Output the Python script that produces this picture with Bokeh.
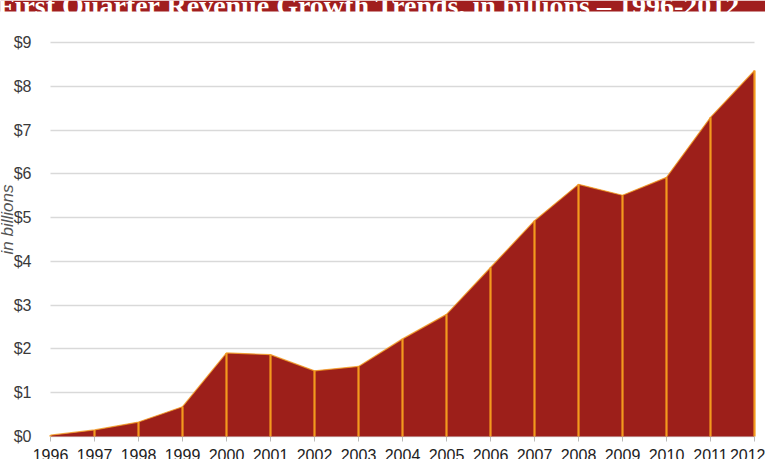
import math
from bokeh.plotting import figure
from bokeh.models import FixedTicker, NumeralTickFormatter, Label, BoxAnnotation
from bokeh.embed import file_html
from bokeh.resources import INLINE

# ---- data ----
years = [1996, 1997, 1998, 1999, 2000, 2001, 2002, 2003, 2004,
         2005, 2006, 2007, 2008, 2009, 2010, 2011, 2012]
revenue = [0.03, 0.15, 0.33, 0.68, 1.91, 1.87, 1.50, 1.60, 2.23,
           2.79, 3.86, 4.93, 5.76, 5.51, 5.92, 7.29, 8.36]
y_ticks = [0, 1, 2, 3, 4, 5, 6, 7, 8, 9]
title_text = "First Quarter Revenue Growth Trends, in billions \u2013 1996-2012"
y_label = "in billions"

FILL = "#9D1F1A"
EDGE = "#F39A1E"

# pixel layout of the (cropped) original: plot area spans x 50..754, y 42..436
PX_PER_YEAR = 44.0
PX_PER_UNIT = 43.78
x0 = years[0] - 50 / PX_PER_YEAR
x1 = years[-1] + 11 / PX_PER_YEAR
y0 = -23 / PX_PER_UNIT
y1 = y_ticks[-1] + 42 / PX_PER_UNIT

p = figure(width=765, height=459, output_backend="svg", toolbar_location=None,
           x_range=(x0, x1), y_range=(y0, y1),
           min_border_left=0, min_border_right=0, min_border_top=0,
           min_border_bottom=0)
p.outline_line_color = None
p.background_fill_color = "white"
p.border_fill_color = "white"

# grid lines limited to the data span
p.ygrid.ticker = FixedTicker(ticks=y_ticks)
p.ygrid.grid_line_color = "#d9d9d9"
p.ygrid.grid_line_width = 1.5
p.xgrid.grid_line_color = None
try:
    p.ygrid.cross_bounds = (years[0], years[-1])
except Exception:
    p.ygrid.grid_line_color = None
    p.segment(x0=[years[0]] * len(y_ticks), y0=y_ticks,
              x1=[years[-1]] * len(y_ticks), y1=y_ticks,
              line_color="#d9d9d9", line_width=1.5)

# area
p.varea(x=years, y1=0, y2=revenue, fill_color=FILL)
p.line(x=years, y=revenue, line_color=EDGE, line_width=1.2, line_alpha=0.8)
p.segment(x0=years, y0=[0] * len(years), x1=years, y1=revenue,
          line_color=EDGE, line_width=2.2)

# y axis
p.yaxis.fixed_location = years[0]
p.yaxis.ticker = FixedTicker(ticks=y_ticks)
p.yaxis.formatter = NumeralTickFormatter(format="$0")
p.yaxis.major_tick_out = 0
p.yaxis.major_tick_in = 0
p.yaxis.minor_tick_out = 0
p.yaxis.minor_tick_in = 0
p.yaxis.axis_line_color = None
p.yaxis.major_label_standoff = 19
p.yaxis.major_label_text_font = "Liberation Sans"
p.yaxis.major_label_text_font_size = "16px"
p.yaxis.major_label_text_color = "#3a3a3a"

# x axis
p.xaxis.fixed_location = 0
p.xaxis.ticker = FixedTicker(ticks=years)
p.xaxis.formatter = NumeralTickFormatter(format="0")
p.xaxis.axis_line_color = None
p.xaxis.major_tick_out = 5
p.xaxis.major_tick_in = 0
p.xaxis.minor_tick_out = 0
p.xaxis.minor_tick_in = 0
p.xaxis.major_tick_line_color = "#bbbbbb"
p.xaxis.major_label_standoff = 7
p.xaxis.major_label_text_font = "Liberation Sans"
p.xaxis.major_label_text_font_size = "16px"
p.xaxis.major_label_text_color = "#222222"

# rotated axis label
p.add_layout(Label(x=years[0] - 43 / PX_PER_YEAR, y=(436 - 219) / PX_PER_UNIT,
                   text=y_label, angle=math.pi / 2,
                   text_align="center", text_baseline="alphabetic",
                   text_font="Liberation Sans", text_font_style="italic",
                   text_font_size="17px", text_color="#555555"))

# title band (cut off at the top edge)
p.add_layout(BoxAnnotation(bottom=(436 - 11) / PX_PER_UNIT, fill_color="#A01E1E",
                           fill_alpha=1.0, line_color=None))
p.add_layout(Label(x=years[0] - 53 / PX_PER_YEAR, y=(436 - 5) / PX_PER_UNIT,
                   text=title_text,
                   text_align="left", text_baseline="alphabetic",
                   text_font="Liberation Serif", text_font_style="bold",
                   text_font_size="28px", text_color="white"))

open("out.html", "w").write(file_html(p, INLINE))
